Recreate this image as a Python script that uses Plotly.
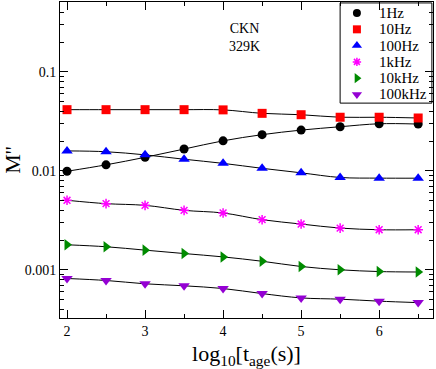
import plotly.graph_objects as go

# log10 of ageing time
log_tage = [2, 2.5, 3, 3.5, 4, 4.5, 5, 5.5, 6, 6.5]

m_1hz = [0.0099, 0.0115, 0.0137, 0.0166, 0.0201, 0.0232, 0.0258, 0.0279, 0.0299, 0.0297]
m_10hz = [0.0415, 0.0415, 0.0415, 0.0415, 0.0413, 0.0381, 0.0369, 0.0348, 0.0348, 0.0342]
m_100hz = [0.0159, 0.0156, 0.0145, 0.0131, 0.0119, 0.0106, 0.00955, 0.00857, 0.00844, 0.00843]
m_1khz = [0.00504, 0.00466, 0.00448, 0.00399, 0.00375, 0.00321, 0.0029, 0.00264, 0.00254, 0.00254]
m_10khz = [0.00179, 0.00171, 0.00158, 0.00146, 0.00135, 0.00122, 0.00108, 0.00100, 0.00096, 0.00095]
m_100khz = [0.000817, 0.00078, 0.000722, 0.000689, 0.000647, 0.000575, 0.00052, 0.000505, 0.000482, 0.000466]

names = ['1Hz', '10Hz', '100Hz', '1kHz', '10kHz', '100kHz']
series = [m_1hz, m_10hz, m_100hz, m_1khz, m_10khz, m_100khz]
colors = ['#000000', '#ff0000', '#0000ff', '#ff00ff', '#008b00', '#9400d3']
symbols = ['circle', 'square', 'triangle-up', 'asterisk', 'triangle-right', 'triangle-down']
sizes = [9, 9, 10, 8, 10, 10]


def marker(c, s, sz):
    if s == 'asterisk':
        return dict(symbol=s, size=sz, color=c, line=dict(color=c, width=1.5))
    return dict(symbol=s, size=sz, color=c, line=dict(width=0))


fig = go.Figure()

# fitted curves (black)
for ys in series:
    fig.add_trace(go.Scatter(x=log_tage, y=ys, mode='lines', line=dict(color='black', width=1, shape='spline'),
                             showlegend=False, hoverinfo='skip'))

for nm, ys, c, s, sz in zip(names, series, colors, symbols, sizes):
    fig.add_trace(go.Scatter(x=log_tage, y=ys, mode='markers', name=nm, marker=marker(c, s, sz), showlegend=False))

# legend box drawn by hand (grace-like compact spacing)
lx0, lx1, ly0, ly1 = 0.751, 0.997, 0.68, 0.997
fig.add_shape(type='rect', xref='paper', yref='paper', x0=lx0, x1=lx1, y0=ly0, y1=ly1,
              line=dict(color='black', width=1), fillcolor='white', layer='below')
row_h = 0.0515
for i, (nm, c, s, sz) in enumerate(zip(names, colors, symbols, sizes)):
    yy = 0.965 - i * row_h
    fig.add_trace(go.Scatter(x=[0.796], y=[yy], xaxis='x2', yaxis='y2', mode='markers',
                             marker=marker(c, s, sz - 1), showlegend=False, hoverinfo='skip'))
    fig.add_annotation(x=0.851, y=yy, xref='paper', yref='paper', text=nm, showarrow=False,
                       xanchor='left', yanchor='middle', font=dict(size=15, color='black'))

fig.add_annotation(x=4.27, y=-0.655, xref='x', yref='y', text='CKN<br>329K', showarrow=False,
                   font=dict(size=14, color='black'), align='center')

fnt = 'Liberation Serif, Times New Roman, serif'
fig.update_layout(
    width=436, height=369,
    margin=dict(l=60, r=3, t=2, b=51),
    paper_bgcolor='white', plot_bgcolor='white',
    font=dict(family=fnt, color='black'),
    showlegend=False,
    xaxis=dict(range=[1.91, 6.69], tickvals=[2, 3, 4, 5, 6], ticks='inside', ticklen=8, tickcolor='black',
               minor=dict(dtick=0.5, tick0=2, ticks='inside', ticklen=4, tickcolor='black'),
               showline=True, linecolor='black', linewidth=1, mirror='ticks', showgrid=False, zeroline=False,
               tickfont=dict(size=14), title=dict(text='log<sub>10</sub>[t<sub>age</sub>(s)]',
                                                  font=dict(size=22), standoff=8)),
    yaxis=dict(type='log', range=[-3.487, -0.294], dtick=1, tickformat='~g',
               ticks='inside', ticklen=8, tickcolor='black',
               minor=dict(dtick='D1', ticks='inside', ticklen=4, tickcolor='black'),
               showline=True, linecolor='black', linewidth=1, mirror='ticks', showgrid=False, zeroline=False,
               tickfont=dict(size=14), title=dict(text="M''", font=dict(size=22), standoff=6)),
    xaxis2=dict(range=[0, 1], overlaying='x', anchor='y2', visible=False, fixedrange=True),
    yaxis2=dict(range=[0, 1], overlaying='y', anchor='x2', visible=False, fixedrange=True),
)

fig.write_html("out.html", post_script="document.body.style.margin='0';",
               config={'displayModeBar': False})
